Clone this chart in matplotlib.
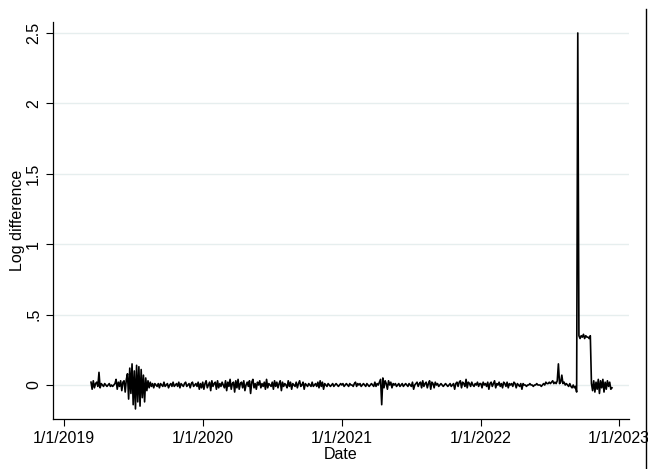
import pandas as pd
import matplotlib.pyplot as plt
from matplotlib.lines import Line2D

plt.rcParams['font.family'] = ['Liberation Sans', 'DejaVu Sans']

# values, one point every 3 days from 13 Mar 2019
start_date = "2019-03-13"

vals_2019 = [
    .02, -.03, .03, -.02, .01, .02, -.01, .09, -.02, .01,
    .00, -.01, .01, .00, -.01, .00, .01, -.01, .00, -.01,
    .00, .01, .04, -.03, .02, -.01, .03, -.04, .02, .03, -.05, .04,
    .08, -.10, .12, -.06, .15, -.14, .10, -.17, .14, -.12, .13, -.15, .11, -.09, .07, -.12, .05,
    -.04, .03, -.02, .02, -.01, .01, -.02, .01, .00, -.01,
    .01, -.02, .01, .00, -.01, .02, -.01, .00, .01, -.02,
    .00, .01, -.01, .02, -.01, .00, .01, -.01, .02, -.02,
    .01, .00, -.01, .01, .02, -.01, .00, .01, -.02, .01,
    .02, -.01, .00, .01, -.01, .02, -.03, .01, -.02,
]

vals_2020 = [
    .02, -.03, .01, .03, -.02, .00, .02, -.04, .03, -.01,
    .01, .02, -.03, .03, -.02, .01, -.01, .02, .00, -.02,
    .03, -.04, .02, -.01, .04, -.03, .01, .02, -.05, .03,
    -.02, .04, -.03, .01, .02, -.02, .03, -.04, .00, .02,
    -.01, .03, -.06, .02, .04, -.02, .01, -.03, .02, .00,
    .03, -.02, .01, -.01, .02, -.03, .04, -.02, .01, .00,
    -.01, .02, -.03, .03, -.01, .02, -.02, .01, .03, -.04,
    .02, -.01, .01, .00, -.02, .03, -.01, .02, -.03, .01,
    .00, -.01, .02, -.02, .01, .03, -.01, .00, .02, -.03,
    .01, .00, -.01, .01, .00, -.01, .02, -.01, .00, .01,
    -.01, .02, -.02, .03, -.01, .02, -.03, .01, .00, -.01,
    .01, .00, -.01, .00, .01, -.01, .00, .01, .00, -.01, .00, .01,
]

vals_2021 = [
    .00, .01, -.01, .00, .01, .00, -.01, .01, .00, .00,
    -.01, .01, .02, -.01, .01, .00, .01, -.01, .00, .01,
    .00, -.01, .01, .00, -.01, .00, .01, .00, -.01, .02,
    -.01, .01, .00, .02, .04,
    -.14,
    .05, -.02, .03, .01, -.03, .03, .00, .02, -.02, .01,
    .00, .01, -.01, .00, .01, -.01, .00, .01, -.01, .00,
    .01, .00, -.01, .01, .00, -.01, .02, -.03, .00, .01,
    .02, -.01, .01, .02, -.02, .03, -.01, .01, .02, -.02,
    .01, .03, -.03, .02, .01, -.02, .02, .00, .01, -.01,
    .00, .01, .00, -.01, .00, .01, .00, -.01, .00, .01,
    -.01, .00, .01, -.03, .01, .02, -.01, .02, .03, -.02,
    .02, .01, -.01, .04, -.02, .02, .01, -.01, .02, .00,
    -.01, .01, .00, .02, -.01, .01,
]

vals_2022 = [
    .01, -.02, .02, .00, .01, -.01, .02, -.03, .01, .02,
    -.01, .01, .03, -.02, .01, .00, .02, -.01, .01, -.02,
    .02, .01, -.01, .02, -.02, .01, .00, .01, -.01, .02,
    .01, -.02, .01, .00, -.01, .01, -.03, .01, .00, .00,
    -.01, .00, .00, .01, .00, .00, -.01, .00, .00, .01,
    .00, .00, .00, -.01, .00, .01, .00, .02, .01, .01,
    .02, .01, .02, .03, .01, .02, .01, .03,
    .15,
    .01, .02, .07, .01, .02, .00, .01, .00, -.01, .01, -.01, -.02, .00, -.02, -.01, -.05,
    2.5,
    .35, .33, .35, .34, .36, .33, .35, .34, .34, .33, .35,
    .01, -.04, .03, -.05, .02, -.03, .04, -.06, .03, -.02,
    .04, -.05, .02, -.03, .03, -.01, .02, -.03, -.02,
]

values = vals_2019 + vals_2020 + vals_2021 + vals_2022
dates = pd.date_range(start_date, periods=len(values), freq="3D")

xticks = pd.to_datetime(["2019-01-01", "2020-01-01", "2021-01-01", "2022-01-01", "2023-01-01"])
xtick_labels = ["1/1/2019", "1/1/2020", "1/1/2021", "1/1/2022", "1/1/2023"]
yticks = [0, 0.5, 1, 1.5, 2, 2.5]
ytick_labels = ["0", ".5", "1", "1.5", "2", "2.5"]

fig = plt.figure(figsize=(6.48, 4.69), dpi=100)
ax = fig.add_axes([0.0818, 0.1066, 0.889, 0.8465])

ax.plot(dates, values, color="black", lw=1.2)

ax.set_xlim(pd.Timestamp("2018-12-03"), pd.Timestamp("2023-01-27"))
ax.set_ylim(-0.2415, 2.578)
ax.set_xticks(xticks)
ax.set_xticklabels(xtick_labels, fontsize=11.5)
ax.set_yticks(yticks)
ax.set_yticklabels(ytick_labels, fontsize=11.5, rotation=90, va="center")
ax.tick_params(length=5, width=0.8, color="black")
ax.yaxis.grid(True, color="#e6eeee", lw=1)
ax.set_axisbelow(True)

for s in ["top", "right"]:
    ax.spines[s].set_visible(False)
for s in ["left", "bottom"]:
    ax.spines[s].set_linewidth(0.9)

ax.set_xlabel("Date", fontsize=11.5, labelpad=1)
ax.set_ylabel("Log difference", fontsize=11.5, labelpad=1)

# border line at the right edge of the graph region
fig.add_artist(Line2D([646 / 648, 646 / 648], [0, 1 - 9 / 469], transform=fig.transFigure, color="black", lw=1))

fig.savefig("out.png", dpi=100)
